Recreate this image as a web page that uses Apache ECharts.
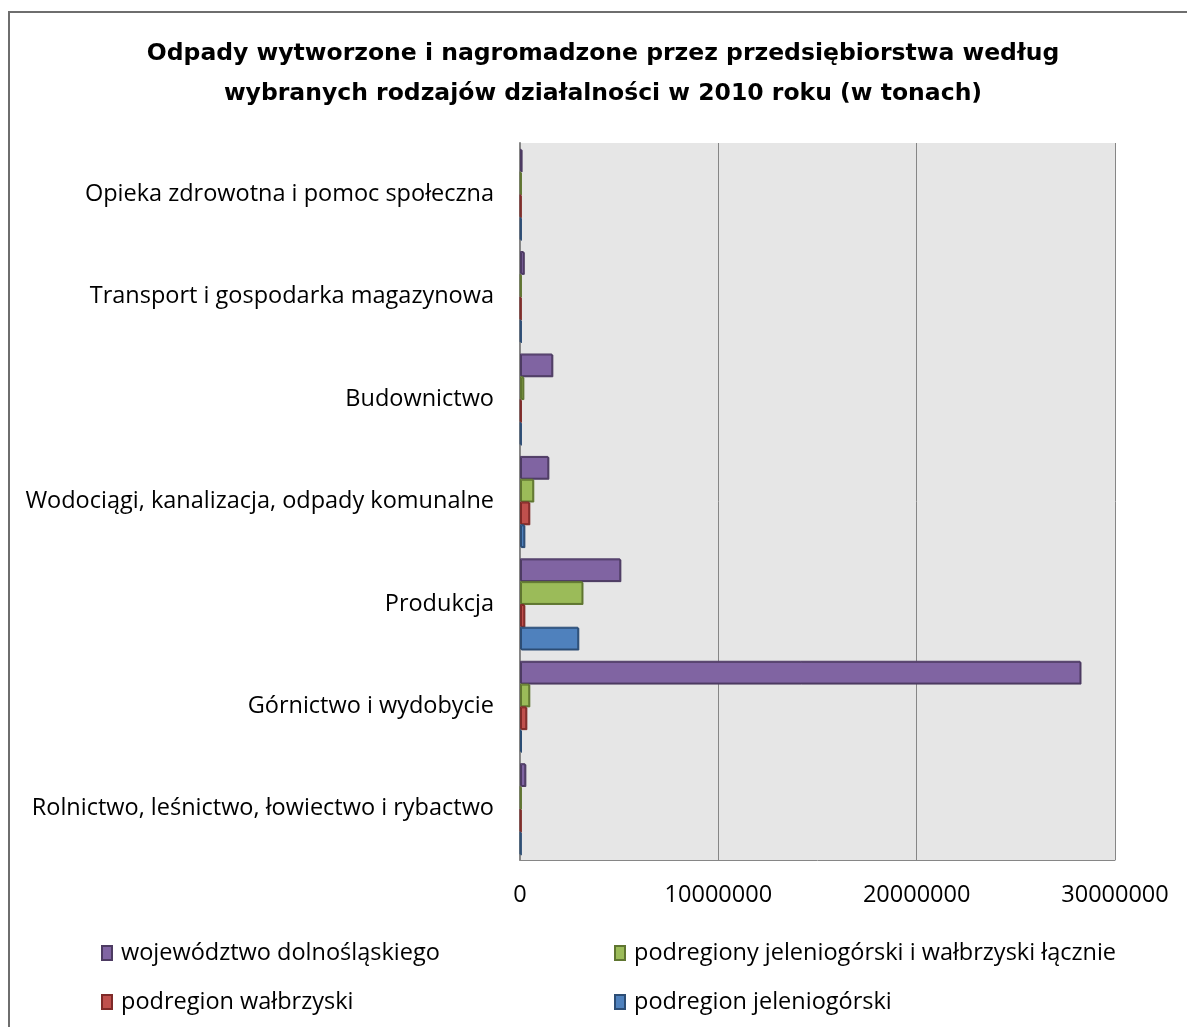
<!DOCTYPE html>
<html>
<head>
<meta charset="utf-8">
<script src="https://cdn.jsdelivr.net/npm/echarts@6/dist/echarts.min.js"></script>
<style>
  html, body { margin: 0; padding: 0; background: #fff; }
  #chart { width: 1187px; height: 1027px; }
</style>
</head>
<body>
<div id="chart"></div>
<script>
// kategorie od dołu do góry (oś kategorii w ECharts rośnie w górę)
const categories = [
  'Rolnictwo, leśnictwo, łowiectwo i rybactwo',
  'Górnictwo i wydobycie',
  'Produkcja',
  'Wodociągi, kanalizacja, odpady komunalne',
  'Budownictwo',
  'Transport i gospodarka magazynowa',
  'Opieka zdrowotna i pomoc społeczna'
];

// wartości w tonach
const wojewodztwo = [270000, 28260000, 5060000, 1430000, 1630000, 190000, 80000];
const podregionyLacznie = [30000, 470000, 3150000, 670000, 170000, 30000, 30000];
const walbrzyski = [20000, 320000, 220000, 470000, 30000, 20000, 20000];
const jeleniogorski = [20000, 50000, 2940000, 220000, 30000, 30000, 30000];

const xTicks = [0, 10000000, 20000000, 30000000];

const names = [
  'województwo dolnośląskiego',
  'podregiony jeleniogórski i wałbrzyski łącznie',
  'podregion wałbrzyski',
  'podregion jeleniogórski'
];

const font = "'Open Sans', 'Noto Sans', sans-serif";
const fs = 23.5;

function bar(name, data, fill, border) {
  return {
    name: name,
    type: 'bar',
    data: data,
    barGap: '0%',
    barCategoryGap: '11%',
    itemStyle: {
      color: fill,
      borderColor: border,
      borderWidth: 1,
      shadowColor: border,
      shadowOffsetX: 1,
      shadowOffsetY: 1
    }
  };
}

function legendItem(name, left, top) {
  return {
    data: [name],
    left: left,
    top: top,
    icon: 'rect',
    itemWidth: 10,
    itemHeight: 14,
    itemGap: 0,
    textStyle: { fontFamily: font, fontSize: fs, color: '#000', padding: [0, 0, 0, 4] }
  };
}

const chart = echarts.init(document.getElementById('chart'));
chart.setOption({
  animation: false,
  backgroundColor: '#fff',
  title: {
    text: 'Odpady wytworzone i nagromadzone przez przedsiębiorstwa według\nwybranych rodzajów działalności w 2010 roku (w tonach)',
    left: 598,
    textAlign: 'center',
    top: 29,
    textStyle: { fontFamily: "'DejaVu Sans', sans-serif", fontSize: 23.5, fontWeight: 'bold', color: '#000', lineHeight: 40 }
  },
  graphic: [{
    type: 'rect',
    shape: { x: 9, y: 12, width: 1300, height: 1200 },
    style: { fill: 'none', stroke: '#6e6e6e', lineWidth: 2 },
    silent: true
  }],
  legend: [
    legendItem(names[0], 96, 936),
    legendItem(names[1], 609, 936),
    legendItem(names[2], 96, 985),
    legendItem(names[3], 609, 985)
  ],
  grid: {
    left: 520, right: 72, top: 143, bottom: 167,
    show: true, backgroundColor: '#e6e6e6', borderWidth: 0
  },
  xAxis: {
    type: 'value',
    min: 0,
    max: 30000000,
    interval: 10000000,
    axisLine: { show: true, lineStyle: { color: '#868686', width: 1 } },
    axisTick: { show: false },
    splitLine: { show: true, lineStyle: { color: '#868686', width: 1 } },
    axisLabel: {
      margin: 23,
      fontFamily: font, fontSize: fs, color: '#000',
      formatter: function (v) { return xTicks.indexOf(v) >= 0 ? String(v) : ''; }
    }
  },
  yAxis: {
    type: 'category',
    data: categories,
    axisLine: { show: true, lineStyle: { color: '#868686', width: 2 } },
    axisTick: { show: false },
    axisLabel: { margin: 26, fontFamily: font, fontSize: fs, color: '#000' }
  },
  series: [
    bar(names[0], wojewodztwo, '#8064a2', '#4d3b62'),
    bar(names[1], podregionyLacznie, '#9bbb59', '#5f7530'),
    bar(names[2], walbrzyski, '#c0504d', '#7f2a28'),
    bar(names[3], jeleniogorski, '#4f81bd', '#2c4d75')
  ]
});
</script>
</body>
</html>
